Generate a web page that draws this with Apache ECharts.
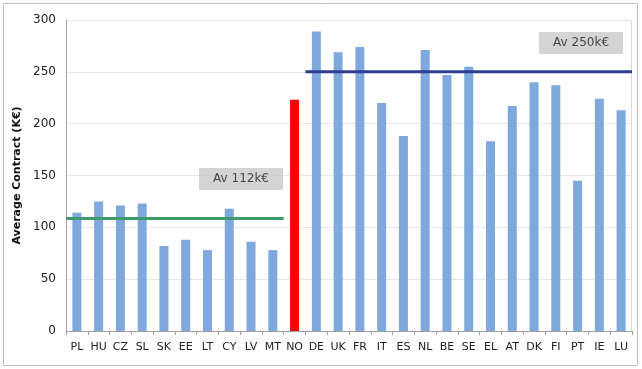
<!DOCTYPE html>
<html>
<head>
<meta charset="utf-8">
<script src="https://cdn.jsdelivr.net/npm/echarts@6/dist/echarts.min.js"></script>
<style>html,body{margin:0;padding:0;background:#fff;}#c{width:642px;height:369px;}</style>
</head>
<body>
<div id="c"></div>
<script>
var categories = ['PL','HU','CZ','SL','SK','EE','LT','CY','LV','MT','NO','DE','UK','FR','IT','ES','NL','BE','SE','EL','AT','DK','FI','PT','IE','LU'];
var contractValues = [114,125,121,123,82,88,78,118,86,78,223,289,269,274,220,188,271,247,255,183,217,240,237,145,224,213];
var highlightCategory = 'NO';
var yTicks = [0,50,100,150,200,250,300];
var avgLow = {label:'Av 112k\u20ac', value:108.5, from:0, to:10, labelX:8.04, labelY:146.6};
var avgHigh = {label:'Av 250k\u20ac', value:250, from:11, to:26, labelX:23.66, labelY:277.8};

var chart = echarts.init(document.getElementById('c'), null, {renderer:'canvas'});
var font = 'Verdana, "DejaVu Sans", sans-serif';
var barData = contractValues.map(function(v,i){
  return {value:v, itemStyle:{color: categories[i]===highlightCategory ? '#ff0000' : '#7fa8dc'}};
});
chart.setOption({
  animation:false,
  backgroundColor:'#fff',
  graphic:[{type:'rect', shape:{x:3.5,y:3.5,width:634,height:362}, style:{fill:'none', stroke:'#c0c0c0', lineWidth:1}, silent:true},
           {type:'rect', shape:{x:66.5,y:20.5,width:565,height:311}, style:{fill:'none', stroke:'#d8d8d8', lineWidth:1}, silent:true, z:-1}],
  grid:{left:66, right:10, top:20, bottom:38},
  xAxis:[{
    type:'category', data:categories,
    axisLine:{lineStyle:{color:'#a0a0a0'}},
    axisTick:{show:true, alignWithLabel:false, lineStyle:{color:'#a0a0a0'}, length:4},
    axisLabel:{color:'#222', fontFamily:font, fontSize:11, margin:11, interval:0}
  },{
    type:'value', min:0, max:26, show:false
  }],
  yAxis:{
    type:'value', min:0, max:300, interval:50,
    name:'Average Contract (K\u20ac)', nameLocation:'middle', nameGap:40,
    nameTextStyle:{fontFamily:font, fontSize:11, fontWeight:'bold', color:'#111'},
    axisLine:{show:true, lineStyle:{color:'#a0a0a0'}},
    axisTick:{show:false},
    axisLabel:{color:'#222', fontFamily:font, fontSize:12, margin:10,
      formatter:function(v){return yTicks.indexOf(v)>=0 ? String(v) : '';}},
    splitLine:{lineStyle:{color:'#e6e6e6'}}
  },
  series:[{
    type:'bar', data:barData, barWidth:9, xAxisIndex:0
  },{
    type:'line', xAxisIndex:1, symbol:'none',
    data:[[avgLow.from, avgLow.value],[avgLow.to, avgLow.value]],
    lineStyle:{color:'#3f9a6c', width:3}, z:5
  },{
    type:'line', xAxisIndex:1, symbol:'none',
    data:[[avgHigh.from, avgHigh.value],[avgHigh.to, avgHigh.value]],
    lineStyle:{color:'#2e3d90', width:3}, z:5
  },{
    type:'scatter', xAxisIndex:1, symbolSize:0,
    data:[[avgLow.labelX, avgLow.labelY, avgLow.label],[avgHigh.labelX, avgHigh.labelY, avgHigh.label]],
    label:{show:true, position:'inside', formatter:function(p){return p.value[2];},
      backgroundColor:'#c9c9c9', width:84, height:22, lineHeight:22, align:'center', verticalAlign:'middle',
      color:'#222', fontFamily:font, fontSize:12},
    z:6
  }]
});
</script>
</body>
</html>
